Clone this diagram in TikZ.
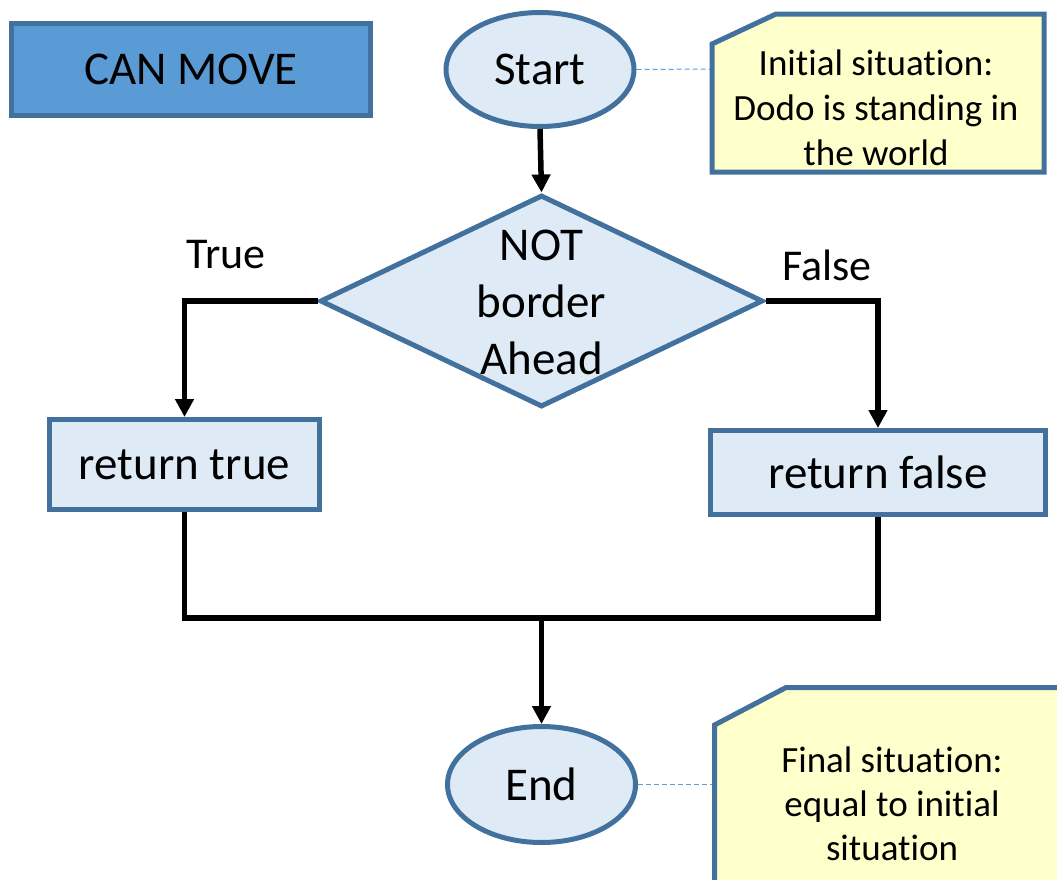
\documentclass[tikz,border=0pt]{standalone}
\usepackage{fontspec}
\setmainfont{Carlito}[RawFeature={-liga;-clig;-calt;-dlig}]
\usetikzlibrary{shapes.geometric,arrows.meta}
\definecolor{bord}{HTML}{41719C}
\definecolor{lblue}{HTML}{DEEBF7}
\definecolor{tblue}{HTML}{5B9BD5}
\definecolor{nyellow}{HTML}{FFFFCC}
\begin{document}
\begin{tikzpicture}[x=1pt,y=-1pt,
  every node/.style={inner sep=0pt},
  shp/.style={draw=bord, line width=5pt, fill=lblue},
  mainfont/.style={font=\fontsize{47}{57}\selectfont},
  lblfont/.style={font=\fontsize{44}{53}\selectfont},
  flow/.style={draw=black, line width=5.5pt},
  arr/.style={flow, -{Triangle[width=18pt,length=18pt]}},
  note/.style={draw=bord, line width=5pt, fill=nyellow, line join=miter},
  notetxt/.style={font=\fontsize{37}{45}\selectfont, align=center, anchor=north},
  dashc/.style={draw=tblue, line width=1pt, dash pattern=on 5pt off 3pt}]
\useasboundingbox (0,0) rectangle (1057,879);

% title
\node[shp, fill=tblue, rectangle, minimum width=359pt, minimum height=92pt, mainfont] (title) at (191,69.5) {CAN MOVE};

% flow nodes
\node[shp, ellipse, minimum width=188pt, minimum height=114pt, mainfont] (start) at (540,69.5) {Start};
\node[shp, diamond, minimum width=443pt, minimum height=212pt] (dec) at (541.5,301) {};
\node[mainfont, align=center, anchor=north] (dectxt) at (541.5,220) {\rule{0pt}{40pt}NOT\\border\\Ahead};
\node[shp, rectangle, minimum width=270pt, minimum height=90pt, mainfont] (rt) at (184.5,464.5) {return true};
\node[shp, rectangle, minimum width=335pt, minimum height=84pt, mainfont] (rf) at (878,472.5) {return false};
\node[shp, ellipse, minimum width=188pt, minimum height=116pt, mainfont] (end) at (541.5,784.5) {End};

% branch labels
\node[lblfont, anchor=base] (tl) at (226,268) {True};
\node[lblfont, anchor=base] (fl) at (827,280) {False};

% connectors
\coordinate (m) at (541.5,618);
\draw[arr] (start.south) -- (dec.north);
\draw[arr] (dec.west) -| (rt.north);
\draw[arr] (dec.east) -| (rf.north);
\draw[flow] (rt.south) |- (m) -| (rf.south);
\draw[arr] (m) -- (end.north);

% comment notes
\coordinate (n1w) at (712,69);
\coordinate (n2w) at (714.5,784.5);
\draw[dashc] (start.east) -- (n1w);
\draw[dashc] (end.east) -- (n2w);
\draw[note] (712,44) -- (776,14) -- (1044,14) -- (1044,172) -- (712,172) -- cycle;
\node[notetxt] (n1t) at (876,45) {\rule{0pt}{30pt}Initial situation:\\Dodo is standing in\\the world};
\draw[note] (714.5,725) -- (786,687.5) -- (1080,687.5) -- (1080,900) -- (714.5,900) -- cycle;
\node[notetxt, font=\fontsize{37}{44}\selectfont] (n2t) at (892,742) {\rule{0pt}{30pt}Final situation:\\equal to initial\\situation};
\end{tikzpicture}
\end{document}
